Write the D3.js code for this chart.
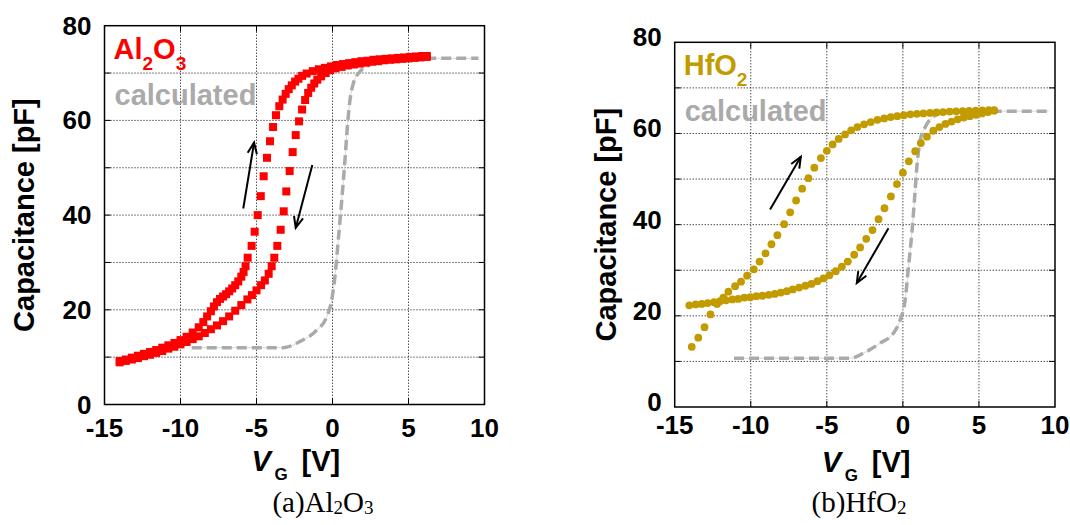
<!DOCTYPE html>
<html>
<head>
<meta charset="utf-8">
<script src="https://cdn.jsdelivr.net/npm/d3@7"></script>
<style>
body { margin: 0; background: #fff; }
text { font-family: "Liberation Sans", Arial, sans-serif; font-weight: bold; }
text.cap { font-family: "Liberation Serif", "Times New Roman", serif; font-weight: normal; }
</style>
</head>
<body>
<div id="chart"></div>
<script>
// axis settings shared by both panels
var xTicks = [-15, -10, -5, 0, 5, 10];
var yTicks = [0, 20, 40, 60, 80];
var xGrid = [-10, -5, 0, 5];
var yGrid = [10, 20, 30, 40, 50, 60, 70];

// (a) Al2O3 : measured sweep, left branch (arrow up) [V, pF]
var al2o3Up = [[-14.0,9.2],[-13.6,9.5],[-13.2,9.9],[-12.8,10.3],[-12.4,10.7],[-12.0,11.1],[-11.6,11.5],[-11.2,12.0],
  [-10.8,12.5],[-10.4,13.0],[-10.0,13.6],[-9.6,14.3],[-9.2,15.2],[-8.8,16.3],[-8.5,17.4],[-8.25,18.6],[-8.0,19.7],
  [-7.8,20.7],[-7.6,21.6],[-7.4,22.3],[-7.2,22.8],[-7.0,23.3],[-6.8,23.9],[-6.6,24.5],[-6.4,25.2],[-6.2,26.0],
  [-6.0,27.0],[-5.85,28.0],[-5.72,29.2],[-5.58,31.0],[-5.32,33.5],[-5.12,36.5],[-4.92,40.0],[-4.72,44.0],
  [-4.53,48.2],[-4.31,52.1],[-4.11,55.6],[-3.91,58.6],[-3.72,61.1],[-3.5,63.0],[-3.28,64.4],[-3.08,65.6],
  [-2.88,66.6],[-2.68,67.4],[-2.46,68.2],[-2.24,68.8],[-2.0,69.4],[-1.7,69.9],[-1.3,70.4],[-0.9,70.8],
  [-0.5,71.1],[-0.1,71.4],[0.3,71.7],[0.7,71.9],[1.1,72.1],[1.5,72.3],[1.9,72.5],[2.3,72.6],[2.7,72.8],
  [3.1,72.9],[3.5,73.0],[3.9,73.1],[4.3,73.2],[4.7,73.3],[5.1,73.4],[5.5,73.5],[5.9,73.6],[6.2,73.6]];

// (a) Al2O3 : right branch (arrow down)
var al2o3Down = [[6.2,73.4],[5.8,73.3],[5.4,73.2],[5.0,73.1],[4.6,73.0],[4.2,72.9],[3.8,72.8],[3.4,72.7],
  [3.0,72.5],[2.6,72.4],[2.2,72.2],[1.8,72.0],[1.4,71.8],[1.0,71.6],[0.6,71.3],[0.2,71.0],[-0.15,70.6],
  [-0.45,70.0],[-0.75,69.3],[-1.0,68.6],[-1.2,67.8],[-1.4,66.9],[-1.6,65.8],[-1.8,64.3],[-2.0,62.3],
  [-2.2,59.8],[-2.42,56.9],[-2.62,53.3],[-2.82,49.3],[-3.04,45.0],[-3.21,40.8],[-3.41,36.9],[-3.63,33.5],
  [-3.83,31.0],[-4.0,29.2],[-4.2,27.6],[-4.45,26.2],[-4.7,25.2],[-5.0,24.1],[-5.3,23.1],[-5.6,22.2],
  [-6.0,21.0],[-6.4,19.8],[-6.8,18.6],[-7.2,17.6],[-7.6,16.7],[-8.0,15.9],[-8.4,15.1],[-8.8,14.4],
  [-9.2,13.8],[-9.6,13.2],[-10.0,12.7],[-10.4,12.2],[-10.8,11.8],[-11.2,11.3],[-11.6,10.9],[-12.0,10.5],
  [-12.4,10.2],[-12.8,9.8],[-13.2,9.5],[-13.6,9.2],[-14.0,8.9]];

// (a) Al2O3 : calculated curve
var al2o3Calc = [[-9.26,12.0],[-3.24,12.0],[-2.14,13.3],[-1.04,15.7],[-0.38,18.5],[-0.05,22.1],[0.16,27.0],
  [0.38,34.7],[0.61,43.2],[0.82,51.6],[0.98,58.7],[1.15,64.3],[1.37,67.8],[1.81,70.3],[2.5,71.8],[3.5,72.6],
  [5.0,73.0],[6.4,73.1],[9.6,73.1]];

// (b) HfO2 : left branch (arrow up)
var hfo2Up = [[-13.88,13.2],[-13.45,15.2],[-13.04,17.5],[-12.65,20.3],[-12.22,22.6],[-11.8,24.0],[-11.47,25.3],
  [-11.03,26.5],[-10.64,27.5],[-10.24,28.8],[-9.8,30.2],[-9.42,31.9],[-9.03,33.7],[-8.64,35.7],[-8.25,37.7],
  [-7.81,40.1],[-7.41,42.7],[-7.02,45.3],[-6.62,47.9],[-6.21,50.2],[-5.82,52.5],[-5.39,54.6],[-5.0,56.2],
  [-4.62,57.6],[-4.22,58.8],[-3.8,59.8],[-3.4,60.7],[-2.99,61.4],[-2.55,62.0],[-2.11,62.5],[-1.67,63.0],
  [-1.23,63.3],[-0.8,63.6],[-0.37,63.8],[0.06,64.0],[0.49,64.2],[0.92,64.3],[1.35,64.4],[1.78,64.5],
  [2.21,64.6],[2.64,64.7],[3.07,64.8],[3.5,64.85],[3.93,64.9],[4.36,64.95],[4.79,65.0],[5.22,65.05],
  [5.65,65.1],[6.0,65.1]];

// (b) HfO2 : right branch (arrow down)
var hfo2Down = [[6.0,65.0],[5.6,64.7],[5.2,64.4],[4.8,64.1],[4.4,63.8],[4.0,63.5],[3.6,63.1],[3.2,62.6],
  [2.8,62.1],[2.4,61.4],[2.0,60.6],[1.58,59.3],[1.18,57.9],[0.81,56.1],[0.39,53.9],[0.0,51.4],[-0.39,48.9],
  [-0.79,46.2],[-1.21,43.6],[-1.6,41.2],[-2.0,38.8],[-2.41,36.9],[-2.81,35.0],[-3.2,33.4],[-3.62,31.9],
  [-4.01,30.8],[-4.41,29.8],[-4.83,28.9],[-5.22,28.2],[-5.62,27.6],[-6.01,27.0],[-6.41,26.6],[-6.82,26.2],
  [-7.24,25.8],[-7.63,25.4],[-8.03,25.1],[-8.42,24.8],[-8.82,24.6],[-9.23,24.4],[-9.63,24.3],[-10.03,24.1],
  [-10.42,24.0],[-10.82,23.7],[-11.21,23.6],[-11.63,23.4],[-12.02,23.2],[-12.41,23.0],[-12.83,22.8],
  [-13.22,22.6],[-13.62,22.5],[-14.04,22.3]];

// (b) HfO2 : calculated curve
var hfo2Calc = [[-11.1,10.7],[-3.46,10.7],[-2.6,11.8],[-1.5,14.0],[-0.62,16.2],[-0.18,19.1],[0.15,23.5],
  [0.37,30.8],[0.59,38.1],[0.76,45.4],[0.92,52.7],[1.14,58.5],[1.47,61.4],[2.13,64.0],[2.89,64.9],[9.58,64.9]];

// sweep direction arrows [v0, c0, v1, c1]
var al2o3Arrows = [[-5.87,41.4,-5.16,55.3],[-1.33,50.6,-2.42,37.3]];
var hfo2Arrows = [[-8.73,43.3,-6.71,54.9],[-0.95,39.2,-3.03,27.2]];

var width = 1070, height = 525;

var svg = d3.select("#chart").append("svg")
  .attr("width", width)
  .attr("height", height);

function drawPanel(p) {
  var x = d3.scaleLinear().domain([-15, 10]).range([p.left, p.right]);
  var y = d3.scaleLinear().domain([0, 80]).range([p.bottom, p.top]);
  var g = svg.append("g");

  // dotted grid
  g.selectAll(".gx").data(xGrid).enter().append("line")
    .attr("x1", function(d) { return x(d); }).attr("x2", function(d) { return x(d); })
    .attr("y1", p.top).attr("y2", p.bottom)
    .attr("stroke", "#000").attr("stroke-width", 1).attr("stroke-dasharray", "1,2");
  g.selectAll(".gy").data(yGrid).enter().append("line")
    .attr("y1", function(d) { return y(d); }).attr("y2", function(d) { return y(d); })
    .attr("x1", p.left).attr("x2", p.right)
    .attr("stroke", "#000").attr("stroke-width", 1).attr("stroke-dasharray", "1,2");

  // calculated curve: thin line under a thick dashed one
  var line = d3.line()
    .x(function(d) { return x(d[0]); })
    .y(function(d) { return y(d[1]); })
    .curve(d3.curveMonotoneX);
  g.append("path").datum(p.calc).attr("d", line)
    .attr("fill", "none").attr("stroke", "#d8d8d8").attr("stroke-width", 1);
  g.append("path").datum(p.calc).attr("d", line)
    .attr("fill", "none").attr("stroke", "#aaaaaa").attr("stroke-width", 3.5)
    .attr("stroke-dasharray", "10,5");

  // measured points
  var pts = p.up.concat(p.down);
  if (p.marker === "square") {
    g.selectAll(".pt").data(pts).enter().append("rect")
      .attr("x", function(d) { return x(d[0]) - 4; })
      .attr("y", function(d) { return y(d[1]) - 4; })
      .attr("width", 8).attr("height", 8)
      .attr("fill", p.color);
  } else {
    g.selectAll(".pt").data(pts).enter().append("circle")
      .attr("cx", function(d) { return x(d[0]); })
      .attr("cy", function(d) { return y(d[1]); })
      .attr("r", 3.9)
      .attr("fill", p.color);
  }

  // arrows
  p.arrows.forEach(function(a) {
    var x0 = x(a[0]), y0 = y(a[1]), x1 = x(a[2]), y1 = y(a[3]);
    var ang = Math.atan2(y1 - y0, x1 - x0);
    var hl = 12, hw = 0.4;
    g.append("line").attr("x1", x0).attr("y1", y0).attr("x2", x1).attr("y2", y1)
      .attr("stroke", "#000").attr("stroke-width", 2);
    g.append("path")
      .attr("d", "M" + (x1 - hl * Math.cos(ang - hw)) + "," + (y1 - hl * Math.sin(ang - hw)) +
        "L" + x1 + "," + y1 +
        "L" + (x1 - hl * Math.cos(ang + hw)) + "," + (y1 - hl * Math.sin(ang + hw)))
      .attr("fill", "none").attr("stroke", "#000").attr("stroke-width", 2);
  });

  // frame and inward ticks
  g.append("rect")
    .attr("x", p.left).attr("y", p.top)
    .attr("width", p.right - p.left).attr("height", p.bottom - p.top)
    .attr("fill", "none").attr("stroke", "#000").attr("stroke-width", 1.5);
  g.selectAll(".tx").data(xGrid).enter().append("line")
    .attr("x1", function(d) { return x(d); }).attr("x2", function(d) { return x(d); })
    .attr("y1", p.bottom).attr("y2", p.bottom - 6)
    .attr("stroke", "#000");
  g.selectAll(".tx2").data(xGrid).enter().append("line")
    .attr("x1", function(d) { return x(d); }).attr("x2", function(d) { return x(d); })
    .attr("y1", p.top).attr("y2", p.top + 6)
    .attr("stroke", "#000");
  g.selectAll(".ty").data(yGrid).enter().append("line")
    .attr("y1", function(d) { return y(d); }).attr("y2", function(d) { return y(d); })
    .attr("x1", p.left).attr("x2", p.left + 6)
    .attr("stroke", "#000");
  g.selectAll(".ty2").data(yGrid).enter().append("line")
    .attr("y1", function(d) { return y(d); }).attr("y2", function(d) { return y(d); })
    .attr("x1", p.right).attr("x2", p.right - 6)
    .attr("stroke", "#000");

  // tick labels
  g.selectAll(".lx").data(xTicks).enter().append("text")
    .attr("x", function(d) { return x(d); })
    .attr("y", p.bottom + p.xLabOff)
    .attr("text-anchor", "middle")
    .attr("font-size", 26)
    .text(function(d) { return d; });
  g.selectAll(".ly").data(yTicks).enter().append("text")
    .attr("x", p.left - 13)
    .attr("y", function(d) { return y(d) + 9 + p.yLabShift; })
    .attr("text-anchor", "end")
    .attr("font-size", 26)
    .text(function(d) { return d; });

  // axis titles
  var cx = (p.left + p.right) / 2;
  g.append("text").attr("x", cx - 43).attr("y", p.bottom + p.titleOff)
    .attr("font-size", 29).attr("font-style", "italic").text("V");
  g.append("text").attr("x", cx - 20).attr("y", p.bottom + p.titleOff + 9)
    .attr("font-size", 17).text("G");
  g.append("text").attr("x", cx + 7).attr("y", p.bottom + p.titleOff)
    .attr("font-size", 29).text("[V]");

  g.append("text")
    .attr("transform", "translate(" + p.yTitleX + "," + ((p.top + p.bottom) / 2) + ") rotate(-90)")
    .attr("text-anchor", "middle")
    .attr("dy", "0.35em")
    .attr("font-size", 29)
    .text("Capacitance [pF]");

  // in-plot labels
  var lab = g.append("text").attr("x", p.left + 9).attr("y", p.top + 33)
    .attr("font-size", 29).attr("fill", p.color);
  p.name.forEach(function(s, i) {
    lab.append("tspan")
      .attr("font-size", s[1] ? 19 : 29)
      .attr("dy", s[1] ? 11 : (i > 0 ? -11 : 0))
      .text(s[0]);
  });
  g.append("text").attr("x", p.left + 10).attr("y", p.top + 79)
    .attr("font-size", 29).attr("fill", "#aaaaaa").text("calculated");

  // caption
  var cap = g.append("text").attr("class", "cap")
    .attr("x", p.capX).attr("y", 512)
    .attr("text-anchor", "middle")
    .attr("font-size", 29);
  p.caption.forEach(function(s, i) {
    cap.append("tspan")
      .attr("font-size", s[1] ? 19 : 29)
      .attr("dy", s[1] ? 2 : (i > 0 ? -2 : 0))
      .text(s[0]);
  });
}

drawPanel({
  left: 104.5, right: 484.5, top: 25.7, bottom: 404.5,
  up: al2o3Up, down: al2o3Down, calc: al2o3Calc, arrows: al2o3Arrows,
  color: "#ff0000", marker: "square",
  name: [["Al", 0], ["2", 1], ["O", 0], ["3", 1]],
  caption: [["(a)Al", 0], ["2", 1], ["O", 0], ["3", 1]],
  xLabOff: 32, yLabShift: 0, titleOff: 66, yTitleX: 24, capX: 323
});

drawPanel({
  left: 674.7, right: 1055, top: 42.3, bottom: 407,
  up: hfo2Up, down: hfo2Down, calc: hfo2Calc, arrows: hfo2Arrows,
  color: "#c29b00", marker: "circle",
  name: [["HfO", 0], ["2", 1]],
  caption: [["(b)HfO", 0], ["2", 1]],
  xLabOff: 27, yLabShift: -5, titleOff: 65, yTitleX: 606, capX: 859
});
</script>
</body>
</html>
